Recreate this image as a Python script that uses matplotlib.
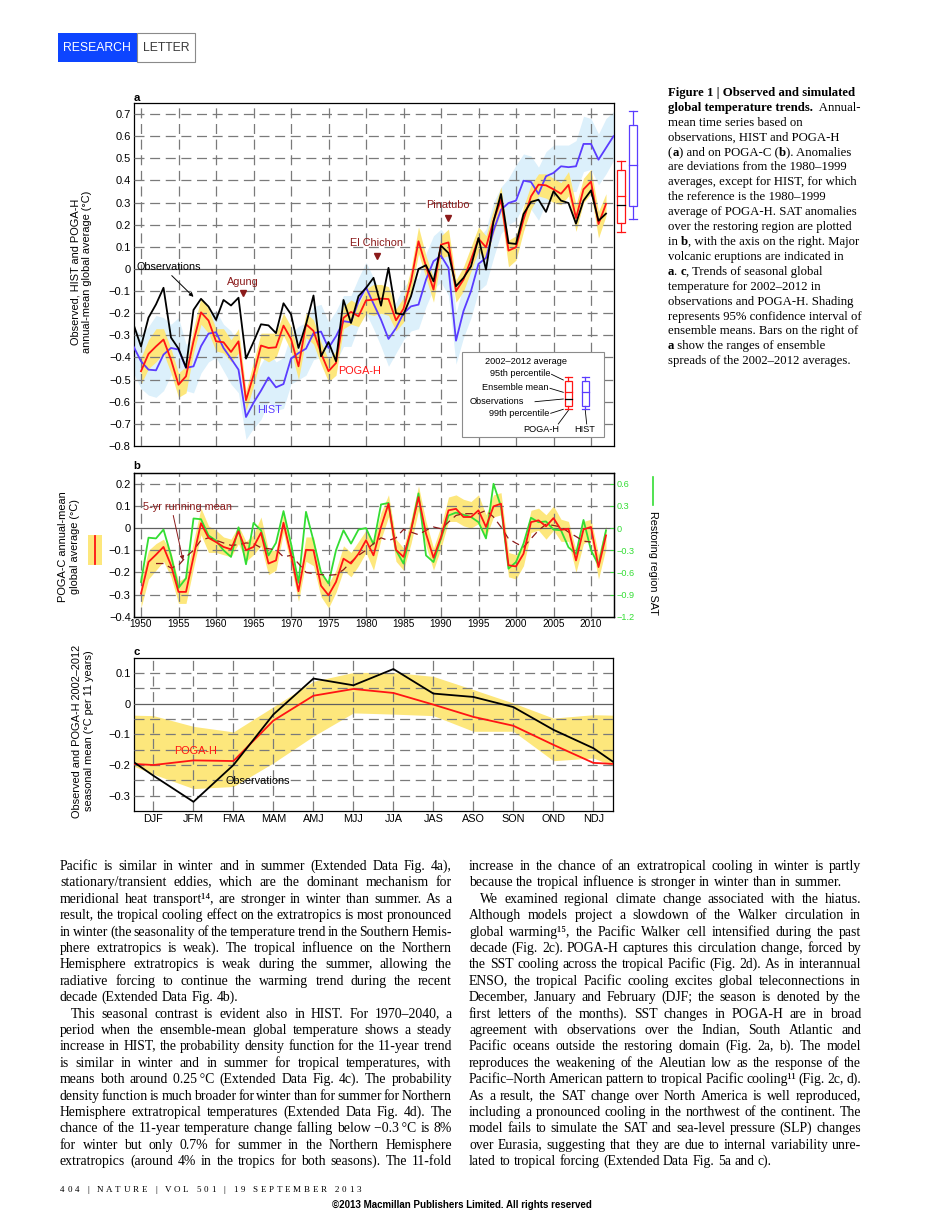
import numpy as np
import matplotlib
matplotlib.use('Agg')
import matplotlib.pyplot as plt
from matplotlib.patches import Rectangle
from matplotlib.lines import Line2D
from matplotlib.font_manager import FontProperties
from matplotlib.backends.backend_agg import get_hinting_flag

W, H = 925, 1216
SANS = ['Liberation Sans', 'DejaVu Sans']
SERIF = ['Liberation Serif', 'DejaVu Serif']
plt.rcParams['font.family'] = SANS
plt.rcParams['font.size'] = 7
plt.rcParams['axes.linewidth'] = 0.9

# ---------------- panel a: annual means (deg C) ----------------
years_obs = np.arange(1949, 2013)
obs = [-0.25, -0.35, -0.22, -0.16, -0.085, -0.31, -0.36, -0.445, -0.185, -0.135,
       -0.17, -0.23, -0.14, -0.165, -0.13, -0.405, -0.33, -0.25, -0.255, -0.29,
       -0.155, -0.205, -0.357, -0.25, -0.12, -0.395, -0.33, -0.417, -0.14, -0.244,
       -0.123, -0.086, -0.04, -0.166, 0.005, -0.2, -0.206, -0.123, 0.0, 0.017,
       -0.056, 0.105, 0.072, -0.078, -0.04, 0.012, 0.14, -0.003, 0.215, 0.339,
       0.117, 0.113, 0.248, 0.303, 0.313, 0.258, 0.351, 0.309, 0.298, 0.205,
       0.309, 0.355, 0.218, 0.25]

years_hist = np.arange(1949, 2014)
hist = [-0.35, -0.417, -0.455, -0.458, -0.387, -0.357, -0.364, -0.447, -0.44, -0.349,
        -0.292, -0.286, -0.357, -0.405, -0.455, -0.669, -0.605, -0.55, -0.49, -0.535,
        -0.52, -0.405, -0.38, -0.36, -0.29, -0.283, -0.357, -0.304, -0.236, -0.241,
        -0.146, -0.083, -0.157, -0.229, -0.316, -0.267, -0.2, -0.169, -0.161, -0.048,
        0.035, 0.06, 0.005, -0.324, -0.19, -0.1, 0.023, 0.05, 0.173, 0.268,
        0.298, 0.309, 0.399, 0.393, 0.339, 0.419, 0.434, 0.464, 0.46, 0.464,
        0.565, 0.565, 0.494, 0.547, 0.6]
hist_lo = [-0.47, -0.54, -0.57, -0.58, -0.55, -0.48, -0.46, -0.55, -0.56, -0.47,
           -0.42, -0.40, -0.46, -0.52, -0.56, -0.77, -0.72, -0.68, -0.60, -0.64,
           -0.63, -0.52, -0.50, -0.48, -0.41, -0.40, -0.47, -0.42, -0.35, -0.35,
           -0.26, -0.20, -0.27, -0.35, -0.44, -0.38, -0.32, -0.28, -0.27, -0.17,
           -0.09, -0.06, -0.12, -0.43, -0.31, -0.22, -0.10, -0.07, 0.05, 0.16,
           0.20, 0.22, 0.29, 0.27, 0.22, 0.30, 0.32, 0.34, 0.35, 0.35,
           0.44, 0.45, 0.38, 0.43, 0.49]
hist_hi = [-0.26, -0.30, -0.26, -0.21, -0.22, -0.25, -0.22, -0.34, -0.32, -0.22,
           -0.20, -0.19, -0.25, -0.28, -0.34, -0.56, -0.49, -0.43, -0.37, -0.42,
           -0.40, -0.29, -0.26, -0.24, -0.17, -0.16, -0.24, -0.19, -0.12, -0.12,
           -0.04, 0.03, -0.04, -0.11, -0.19, -0.15, -0.08, -0.05, -0.04, 0.07,
           0.15, 0.18, 0.13, -0.20, -0.07, 0.02, 0.14, 0.18, 0.30, 0.37,
           0.41, 0.47, 0.52, 0.51, 0.46, 0.53, 0.56, 0.56, 0.56, 0.58,
           0.69, 0.68, 0.61, 0.68, 0.71]

years_poga = np.arange(1950, 2013)
pogah = [-0.462, -0.384, -0.35, -0.319, -0.41, -0.523, -0.485, -0.327, -0.196, -0.233,
         -0.327, -0.331, -0.375, -0.327, -0.593, -0.48, -0.346, -0.357, -0.354, -0.256,
         -0.316, -0.44, -0.25, -0.28, -0.38, -0.462, -0.425, -0.221, -0.194, -0.214,
         -0.142, -0.139, -0.134, -0.136, -0.232, -0.18, -0.056, 0.125, 0.012, -0.093,
         0.11, 0.12, -0.1, -0.048, 0.042, 0.137, 0.098, 0.218, 0.313, 0.083,
         0.098, 0.223, 0.328, 0.381, 0.378, 0.36, 0.34, 0.38, 0.23, 0.36,
         0.395, 0.203, 0.294]
pogah_lo = [-0.52, -0.45, -0.42, -0.38, -0.47, -0.58, -0.56, -0.38, -0.25, -0.29,
            -0.37, -0.38, -0.42, -0.38, -0.64, -0.53, -0.40, -0.42, -0.40, -0.30,
            -0.37, -0.50, -0.31, -0.34, -0.43, -0.51, -0.48, -0.27, -0.25, -0.26,
            -0.20, -0.21, -0.20, -0.21, -0.28, -0.24, -0.11, 0.07, -0.04, -0.15,
            0.05, 0.06, -0.15, -0.10, -0.01, 0.08, 0.04, 0.16, 0.26, 0.01,
            0.04, 0.17, 0.27, 0.33, 0.32, 0.30, 0.29, 0.33, 0.17, 0.30,
            0.34, 0.14, 0.24]
pogah_hi = [-0.40, -0.32, -0.27, -0.27, -0.36, -0.47, -0.44, -0.27, -0.13, -0.18,
            -0.27, -0.27, -0.32, -0.27, -0.55, -0.42, -0.29, -0.29, -0.29, -0.20,
            -0.26, -0.38, -0.20, -0.23, -0.33, -0.41, -0.37, -0.17, -0.14, -0.16,
            -0.09, -0.07, -0.07, -0.08, -0.18, -0.13, 0.00, 0.19, 0.06, -0.04,
            0.15, 0.18, -0.05, 0.01, 0.10, 0.19, 0.15, 0.27, 0.37, 0.13,
            0.15, 0.28, 0.38, 0.43, 0.43, 0.41, 0.39, 0.44, 0.29, 0.41,
            0.45, 0.26, 0.34]

# 2002-2012 averages: ranges of ensemble spreads (POGA-H, HIST)
box_lo99 = [0.167, 0.227]
box_lo95 = [0.208, 0.283]
box_mean = [0.328, 0.468]
box_hi95 = [0.445, 0.652]
box_hi99 = [0.486, 0.712]
obs_avg = 0.29

volcano_names = ['Agung', 'El Chichon', 'Pinatubo']
volcano_years = [1963.6, 1981.4, 1990.9]

# ---------------- panel b: POGA-C ----------------
pogac = [-0.296, -0.153, -0.12, -0.085, -0.168, -0.288, -0.288, -0.13, 0.022, -0.044,
         -0.063, -0.085, -0.096, -0.015, -0.1, -0.085, -0.021, -0.16, -0.146, 0.024,
         -0.12, -0.285, -0.098, -0.1, -0.26, -0.303, -0.243, -0.138, -0.16, -0.116,
         -0.055, -0.123, 0.005, 0.11, -0.098, -0.13, -0.01, 0.14, -0.025, -0.134,
         -0.04, 0.08, 0.087, 0.05, 0.05, 0.08, 0.005, 0.098, 0.11, -0.168,
         -0.173, -0.116, 0.027, 0.035, 0.008, 0.045, -0.008, -0.003, -0.146, -0.006,
         0.005, -0.176, -0.033]
pogac_lo = [-0.36, -0.23, -0.19, -0.15, -0.22, -0.34, -0.34, -0.18, -0.03, -0.11,
            -0.11, -0.12, -0.13, -0.07, -0.15, -0.12, -0.08, -0.21, -0.19, -0.02,
            -0.17, -0.33, -0.15, -0.17, -0.31, -0.36, -0.29, -0.19, -0.22, -0.17,
            -0.11, -0.19, -0.05, 0.05, -0.15, -0.19, -0.07, 0.08, -0.08, -0.19,
            -0.09, 0.03, 0.03, 0.01, 0.00, 0.02, -0.04, 0.05, 0.06, -0.22,
            -0.23, -0.17, -0.02, -0.01, -0.05, -0.01, -0.06, -0.06, -0.20, -0.07,
            -0.05, -0.23, -0.09]
pogac_hi = [-0.24, -0.10, -0.07, -0.05, -0.11, -0.24, -0.22, -0.06, 0.09, 0.01,
            -0.01, -0.04, -0.05, 0.01, -0.06, -0.03, 0.05, -0.10, -0.10, 0.07,
            -0.07, -0.24, -0.04, -0.04, -0.21, -0.25, -0.19, -0.08, -0.11, -0.06,
            -0.01, -0.06, 0.07, 0.15, -0.05, -0.09, 0.04, 0.19, 0.03, -0.09,
            0.01, 0.14, 0.15, 0.13, 0.12, 0.15, 0.06, 0.15, 0.16, -0.11,
            -0.12, -0.07, 0.08, 0.09, 0.06, 0.10, 0.04, 0.03, -0.10, 0.03,
            0.04, -0.12, 0.01]
# restoring region SAT (right axis)
sat = [-0.73, -0.13, -0.14, -0.02, -0.37, -0.81, -0.68, 0.13, 0.12, -0.10,
       -0.17, -0.30, -0.39, 0.01, -0.49, 0.07, -0.03, -0.37, -0.20, 0.23,
       -0.21, -0.74, 0.22, -0.17, -0.60, -0.75, -0.30, -0.03, -0.21, -0.02,
       0.00, -0.22, 0.32, 0.34, -0.30, -0.48, -0.03, 0.47, -0.37, -0.46,
       -0.14, 0.17, 0.21, 0.18, 0.15, 0.08, -0.14, 0.60, 0.29, -0.55,
       -0.46, -0.21, 0.14, 0.08, 0.09, -0.02, -0.03, -0.26, -0.35, 0.11,
       -0.30, -0.50, -0.03]
years_run = np.arange(1952, 2011)
runmean = [-0.16, -0.16, -0.18, -0.168, -0.13, -0.1, -0.055, -0.044, -0.055, -0.067,
           -0.078, -0.075, -0.067, -0.07, -0.089, -0.093, -0.098, -0.13, -0.123, -0.16,
           -0.2, -0.206, -0.21, -0.213, -0.21, -0.188, -0.153, -0.123, -0.1, -0.07,
           -0.044, -0.056, -0.044, -0.006, -0.018, -0.03, -0.01, 0.005, -0.003, 0.027,
           0.057, 0.065, 0.065, 0.065, 0.08, 0.05, 0.005, -0.048, -0.068, -0.086,
           -0.048, -0.01, 0.017, 0.012, 0.005, -0.018, -0.038, -0.059, -0.063]

# ---------------- panel c: seasonal trends 2002-2012 ----------------
seasons = ['DJF', 'JFM', 'FMA', 'MAM', 'AMJ', 'MJJ', 'JJA', 'JAS', 'ASO', 'SON', 'OND', 'NDJ']
obs_c = [-0.235, -0.32, -0.2, -0.035, 0.082, 0.06, 0.113, 0.033, 0.022, -0.011, -0.085, -0.145]
poga_c = [-0.2, -0.185, -0.187, -0.055, 0.026, 0.048, 0.035, -0.003, -0.043, -0.072, -0.134, -0.193]
band_c_lo = [-0.23, -0.277, -0.27, -0.193, -0.106, -0.03, -0.034, -0.039, -0.09, -0.09, -0.186, -0.177]
band_c_hi = [-0.039, -0.074, -0.092, -0.01, 0.073, 0.102, 0.102, 0.089, 0.046, 0.002, -0.047, -0.036]

RED = '#ff1414'
BLUE = '#5a3cff'
GREEN = '#33dd33'
YEL = '#fde77c'
LBLUE = '#dcf0fb'
DRED = '#8b1a1a'
GRID = '#7a7a7a'
ANN = 7.8     # annotation font size
YT = 8.0      # y tick label size

fig = plt.figure(figsize=(W / 100, H / 100), dpi=100)
R = fig.canvas.get_renderer()


def fx(x):
    return x / W


def fy(y):
    return 1 - y / H


def rect(l, t, r, b):
    return [l / W, 1 - b / H, (r - l) / W, (b - t) / H]


def ftext(x, y, s, **kw):
    return fig.text(fx(x), fy(y), s, **kw)


def fline(xs, ys, **kw):
    fig.add_artist(Line2D([fx(v) for v in xs], [fy(v) for v in ys],
                          transform=fig.transFigure, **kw))


def fbox(l, t, r, b, **kw):
    fig.add_artist(Rectangle((fx(l), fy(b)), (r - l) / W, (b - t) / H,
                             transform=fig.transFigure, **kw))


def ink(s, **kw):
    t = fig.text(0, 0, s, **kw)
    w = t.get_window_extent(renderer=R).width
    t.remove()
    return w


def adv(s, **kw):
    return ink('|' + s + '|', **kw) - ink('||', **kw)


def base_fix(s, **kw):
    # whole-pixel shift that keeps baselines level when words are drawn one by one
    try:
        prop = FontProperties(family=kw.get('family', SANS), size=kw['fontsize'],
                              weight=kw.get('fontweight', 'normal'))
        font = R._prepare_font(prop)
        font.set_text(s, 0, flags=get_hinting_flag())
        _, h = font.get_width_height()
        dsc = font.get_descent()
        return round(dsc / 64) - h // 64 + (h - dsc) // 64
    except Exception:
        return 0


def btext(x, y, s, **kw):
    # text on an integer baseline (top-down pixels)
    return ftext(x, y - base_fix(s, **kw), s, ha='left', va='baseline', **kw)


def lab(v):
    return '0' if abs(v) < 1e-9 else f'{v:.1f}'.replace('-', '\u2212')


def dgrid(ax, xs=(), ys=()):
    for v in xs:
        ax.axvline(v, color=GRID, lw=0.9, ls=(0, (8, 4.5)), zorder=3)
    for v in ys:
        ax.axhline(v, color=GRID, lw=0.9, ls=(0, (8, 4.5)), zorder=3)
    ax.axhline(0, color='#606060', lw=0.9, zorder=3)


def style(ax):
    ax.tick_params(direction='in', length=3, width=0.7, pad=2)
    ax.tick_params(axis='y', labelsize=YT)


# ---------------- header ----------------
fbox(57.7, 33.3, 136.7, 61.7, facecolor='#0d45ff', edgecolor='none')
fbox(136.7, 33.3, 195, 61.7, facecolor='white', edgecolor='#8a8a8a', lw=0.8)
ftext(97.2, 47.8, 'RESEARCH', ha='center', va='center', color='white', fontsize=8.8)
ftext(165.8, 47.8, 'LETTER', ha='center', va='center', color='#3a3a3a', fontsize=8.8)

# ---------------- panel a ----------------
axA = fig.add_axes(rect(133.5, 103, 613.5, 446))
axA.set_xlim(1949, 2013)
axA.set_ylim(-0.8, 0.75)
yt = np.round(np.arange(-0.8, 0.71, 0.1), 1)
axA.set_yticks(yt)
axA.set_yticklabels([lab(v) for v in yt])
xt = np.arange(1950, 2011, 5)
axA.set_xticks(xt)
axA.tick_params(labelbottom=False)
style(axA)
dgrid(axA, xt, [v for v in yt if v not in (0, -0.8)])
axA.fill_between(years_hist, hist_lo, hist_hi, color=LBLUE, lw=0, zorder=1)
axA.fill_between(years_poga, pogah_lo, pogah_hi, color=YEL, lw=0, zorder=2)
axA.plot(years_hist, hist, color=BLUE, lw=1.3, zorder=4)
axA.plot(years_poga, pogah, color=RED, lw=1.3, zorder=5)
axA.plot(years_obs, obs, color='black', lw=1.3, zorder=6)

for i, c in enumerate([RED, BLUE]):
    x = [2014.0, 2015.6][i]
    axA.add_patch(Rectangle((x - 0.5, box_lo95[i]), 1.0, box_hi95[i] - box_lo95[i],
                            fill=False, ec=c, lw=0.9, clip_on=False))
    for a, b in [(box_lo99[i], box_lo95[i]), (box_hi95[i], box_hi99[i])]:
        axA.plot([x, x], [a, b], color=c, lw=0.9, clip_on=False)
    for v in [box_lo99[i], box_hi99[i], box_mean[i]]:
        axA.plot([x - 0.5, x + 0.5], [v, v], color=c, lw=0.9, clip_on=False)
axA.plot([2013.5, 2014.5], [obs_avg, obs_avg], color='black', lw=0.9, clip_on=False)

for name, yr, ty, my in zip(volcano_names, volcano_years, [-0.06, 0.117, 0.287],
                            [-0.108, 0.057, 0.23]):
    axA.text(yr, ty, name, color=DRED, ha='center', va='center', fontsize=ANN, zorder=7)
    axA.plot([yr], [my], marker='v', color=DRED, ms=5, zorder=7)

axA.text(1949.45, 0.01, 'Observations', ha='left', va='center', fontsize=ANN, zorder=7)
axA.annotate('', xy=(1957.0, -0.126), xytext=(1954.1, -0.03),
             arrowprops=dict(arrowstyle='-|>', color='black', lw=0.7,
                             mutation_scale=6, shrinkA=0, shrinkB=0), zorder=7)
axA.text(1967.2, -0.636, 'HIST', color=BLUE, ha='center', va='center', fontsize=ANN, zorder=7)
axA.text(1979.2, -0.46, 'POGA-H', color=RED, ha='center', va='center', fontsize=ANN, zorder=7)

# inset key
fbox(462, 351.7, 604, 436.7, facecolor='white', edgecolor='#8c8c8c', lw=0.8)
ftext(526, 361, '2002\u20132012 average', ha='center', va='center', fontsize=6.6)
for s, xr, yy, x0, y0, x1, y1 in [('95th percentile', 550.7, 373.3, 551.5, 374.3, 563.3, 380),
                                  ('Ensemble mean', 549, 387.7, 550, 388.3, 563.3, 392.3),
                                  ('Observations', 524.3, 401.7, 535, 401.7, 563.3, 399),
                                  ('99th percentile', 549.3, 413.3, 550.7, 413.3, 563.3, 409.3)]:
    ftext(xr, yy, s, ha='right', va='center', fontsize=6.6)
    fline([x0, x1], [y0, y1], color='black', lw=0.6)
for cx, c in [(568.2, RED), (585.3, BLUE)]:
    fbox(cx - 3.6, 380.7, cx + 3.6, 405.7, facecolor='none', edgecolor=c, lw=0.9)
    fline([cx, cx], [376.7, 380.7], color=c, lw=0.9)
    fline([cx, cx], [405.7, 409.3], color=c, lw=0.9)
    for yy in [376.7, 409.3, 392.3]:
        fline([cx - 3.6, cx + 3.6], [yy, yy], color=c, lw=0.9)
fline([564.6, 571.8], [399, 399], color='black', lw=0.9)
fline([558.3, 568.3], [424, 410.5], color='black', lw=0.6)
fline([586.7, 585.3], [424, 410.5], color='black', lw=0.6)
ftext(541.7, 429.5, 'POGA-H', ha='center', va='center', fontsize=6.6)
ftext(585, 429.5, 'HIST', ha='center', va='center', fontsize=6.6)

# ---------------- panel b ----------------
axB = fig.add_axes(rect(133.5, 472.7, 613.5, 616.7))
axB.set_xlim(1949, 2013)
axB.set_ylim(-0.4, 0.25)
ytb = np.round(np.arange(-0.4, 0.21, 0.1), 1)
axB.set_yticks(ytb)
axB.set_yticklabels([lab(v) for v in ytb])
axB.set_xticks(xt)
axB.set_xticklabels([str(v) for v in xt])
style(axB)
axB.tick_params(axis='x', labelsize=7.2, pad=1.5)
dgrid(axB, xt, [v for v in ytb if v not in (0, -0.4)])
axB.fill_between(years_poga, pogac_lo, pogac_hi, color=YEL, lw=0, zorder=2)

axB2 = axB.twinx()
axB2.set_ylim(-1.2, 0.75)
ytr = np.round(np.arange(-1.2, 0.61, 0.3), 1)
axB2.set_yticks(ytr)
axB2.set_yticklabels([lab(v) for v in ytr])
style(axB2)
axB2.tick_params(axis='y', labelcolor=GREEN, color=GREEN, labelsize=6.6)
axB2.plot(years_poga, sat, color=GREEN, lw=1.3)

axB3 = fig.add_axes(rect(133.5, 472.7, 613.5, 616.7), sharex=axB, sharey=axB)
axB3.axis('off')
axB3.plot(years_run, runmean, color=DRED, lw=0.9, ls=(0, (6, 4)))
axB3.plot(years_poga, pogac, color=RED, lw=1.3)
axB3.text(1950.3, 0.095, '5-yr running mean', color=DRED, ha='left', va='center', fontsize=ANN)
axB3.annotate('', xy=(1955.6, -0.145), xytext=(1954.3, 0.057),
              arrowprops=dict(arrowstyle='-|>', color=DRED, lw=0.7,
                              mutation_scale=6, shrinkA=0, shrinkB=0))

fbox(88.3, 535, 101.7, 565, facecolor=YEL, edgecolor='none')
fline([95, 95], [536, 564], color=RED, lw=1.3)
fline([653, 653], [476.7, 505], color=GREEN, lw=1.2)
ftext(653, 563.3, 'Restoring region SAT', rotation=270, ha='center', va='center', fontsize=7.8)

# ---------------- panel c ----------------
axC = fig.add_axes(rect(133.5, 657.7, 613.3, 811))
axC.set_xlim(-0.5, 11.5)
axC.set_ylim(-0.35, 0.15)
ytc = np.round(np.arange(-0.3, 0.11, 0.1), 1)
axC.set_yticks(ytc)
axC.set_yticklabels([lab(v) for v in ytc])
xc = np.arange(len(seasons))
axC.set_xticks(xc)
axC.set_xticklabels(seasons)
style(axC)
axC.tick_params(axis='x', labelsize=7.8, pad=2)
dgrid(axC, xc, [v for v in np.round(np.arange(-0.3, 0.11, 0.05), 2) if abs(v) > 1e-9])
# seasons are cyclic: repeat the neighbours on both ends
xw = np.arange(-1, len(seasons) + 1)


def wrap(v):
    return [v[-1]] + list(v) + [v[0]]


axC.fill_between(xw, wrap(band_c_lo), wrap(band_c_hi), color=YEL, lw=0, zorder=2)
axC.plot(xw, wrap(poga_c), color=RED, lw=1.3, zorder=5)
axC.plot(xw, wrap(obs_c), color='black', lw=1.3, zorder=6)
axC.text(0.525, -0.153, 'POGA-H', color=RED, ha='left', va='center', fontsize=ANN, zorder=7)
axC.text(1.79, -0.251, 'Observations', color='black', ha='left', va='center', fontsize=ANN, zorder=7)

# panel letters and axis titles
for s, yy in [('a', 97.7), ('b', 466), ('c', 651.7)]:
    ftext(133.5, yy, s, ha='left', va='center', fontsize=8.2, fontweight='bold')
ftext(81, 272, 'Observed, HIST and POGA-H\nannual-mean global average (\u00b0C)', rotation=90,
      ha='center', va='center', fontsize=7.9, linespacing=1.2)
ftext(69, 546.7, 'POGA-C annual-mean\nglobal average (\u00b0C)', rotation=90,
      ha='center', va='center', fontsize=7.9, linespacing=1.2)
ftext(83, 731, 'Observed and POGA-H 2002\u20132012\nseasonal mean (\u00b0C per 11 years)',
      rotation=90, ha='center', va='center', fontsize=7.9, linespacing=1.2)

# ---------------- caption ----------------
caption = [
    [('Figure 1 | Observed and simulated', 'bold')],
    [('global temperature trends.', 'bold'), ('  Annual-', 'normal')],
    [('mean time series based on', 'normal')],
    [('observations, HIST and POGA-H', 'normal')],
    [('(', 'normal'), ('a', 'bold'), (') and on POGA-C (', 'normal'), ('b', 'bold'),
     ('). Anomalies', 'normal')],
    [('are deviations from the 1980\u20131999', 'normal')],
    [('averages, except for HIST, for which', 'normal')],
    [('the reference is the 1980\u20131999', 'normal')],
    [('average of POGA-H. SAT anomalies', 'normal')],
    [('over the restoring region are plotted', 'normal')],
    [('in ', 'normal'), ('b', 'bold'), (', with the axis on the right. Major', 'normal')],
    [('volcanic eruptions are indicated in', 'normal')],
    [('a', 'bold'), ('. ', 'normal'), ('c', 'bold'), (', Trends of seasonal global', 'normal')],
    [('temperature for 2002\u20132012 in', 'normal')],
    [('observations and POGA-H. Shading', 'normal')],
    [('represents 95% confidence interval of', 'normal')],
    [('ensemble means. Bars on the right of', 'normal')],
    [('a', 'bold'), (' show the ranges of ensemble', 'normal')],
    [('spreads of the 2002\u20132012 averages.', 'normal')],
]
CAP = 9.2
for i, parts in enumerate(caption):
    x = 668
    y = round(96 + i * 14.9)
    for s, wt in parts:
        kw = dict(fontsize=CAP, family=SERIF, fontweight=wt)
        btext(x, y, s, **kw)
        x += adv(s, **kw)

# ---------------- body text ----------------
left_col = [
    ('Pacific is similar in winter and in summer (Extended Data Fig. 4a),', True, 0),
    ('stationary/transient eddies, which are the dominant mechanism for', True, 0),
    ('meridional heat transport\u00b9\u2074, are stronger in winter than summer. As a', True, 0),
    ('result, the tropical cooling effect on the extratropics is most pronounced', True, 0),
    ('in winter (the seasonality of the temperature trend in the Southern Hemis-', True, 0),
    ('phere extratropics is weak). The tropical influence on the Northern', True, 0),
    ('Hemisphere extratropics is weak during the summer, allowing the', True, 0),
    ('radiative forcing to continue the warming trend during the recent', True, 0),
    ('decade (Extended Data Fig. 4b).', False, 0),
    ('This seasonal contrast is evident also in HIST. For 1970\u20132040, a', True, 11),
    ('period when the ensemble-mean global temperature shows a steady', True, 0),
    ('increase in HIST, the probability density function for the 11-year trend', True, 0),
    ('is similar in winter and in summer for tropical temperatures, with', True, 0),
    ('means both around 0.25\u2009\u00b0C (Extended Data Fig. 4c). The probability', True, 0),
    ('density function is much broader for winter than for summer for Northern', True, 0),
    ('Hemisphere extratropical temperatures (Extended Data Fig. 4d). The', True, 0),
    ('chance of the 11-year temperature change falling below \u22120.3\u2009\u00b0C is 8%', True, 0),
    ('for winter but only 0.7% for summer in the Northern Hemisphere', True, 0),
    ('extratropics (around 4% in the tropics for both seasons). The 11-fold', True, 0),
]
right_col = [
    ('increase in the chance of an extratropical cooling in winter is partly', True, 0),
    ('because the tropical influence is stronger in winter than in summer.', False, 0),
    ('We examined regional climate change associated with the hiatus.', True, 11),
    ('Although models project a slowdown of the Walker circulation in', True, 0),
    ('global warming\u00b9\u2075, the Pacific Walker cell intensified during the past', True, 0),
    ('decade (Fig. 2c). POGA-H captures this circulation change, forced by', True, 0),
    ('the SST cooling across the tropical Pacific (Fig. 2d). As in interannual', True, 0),
    ('ENSO, the tropical Pacific cooling excites global teleconnections in', True, 0),
    ('December, January and February (DJF; the season is denoted by the', True, 0),
    ('first letters of the months). SST changes in POGA-H are in broad', True, 0),
    ('agreement with observations over the Indian, South Atlantic and', True, 0),
    ('Pacific oceans outside the restoring domain (Fig. 2a, b). The model', True, 0),
    ('reproduces the weakening of the Aleutian low as the response of the', True, 0),
    ('Pacific\u2013North American pattern to tropical Pacific cooling\u00b9\u00b9 (Fig. 2c, d).', True, 0),
    ('As a result, the SAT change over North America is well reproduced,', True, 0),
    ('including a pronounced cooling in the northwest of the continent. The', True, 0),
    ('model fails to simulate the SAT and sea-level pressure (SLP) changes', True, 0),
    ('over Eurasia, suggesting that they are due to internal variability unre-', True, 0),
    ('lated to tropical forcing (Extended Data Fig. 5a and c).', False, 0),
]
for x0, x1, col in [(60, 452, left_col), (469, 861, right_col)]:
    for i, (line, just, ind) in enumerate(col):
        y = round(870 + i * 16.4)
        # shrink a line that would not fit at the base size
        fs = 9.9
        while True:
            body = dict(fontsize=fs, family=SERIF)
            words = line.split(' ')
            ws = [adv(w, **body) for w in words]
            space = adv(' ', **body)
            if sum(ws) + 0.45 * space * (len(words) - 1) <= x1 - x0 - ind or fs < 8:
                break
            fs -= 0.1
        gap = (x1 - x0 - ind - sum(ws)) / (len(words) - 1) if just else space
        x = x0 + ind
        for w, wd in zip(words, ws):
            btext(x, y, w, **body)
            x += wd + gap

# ---------------- footer ----------------
foot = '404 | NATURE | VOL 501 | 19 SEPTEMBER 2013'
FOOT = dict(fontsize=6.5, family=SERIF)
advs = [adv(ch, **FOOT) for ch in foot]
track = (361 - 60 - sum(advs)) / (len(foot) - 1)
x = 60
for ch, a in zip(foot, advs):
    if ch != ' ':
        btext(x, 1192, ch, **FOOT)
    x += a + track
ftext(462, 1205, '\u00a92013 Macmillan Publishers Limited. All rights reserved', ha='center',
      va='center', fontsize=7, fontweight='bold')

fig.savefig('out.png', dpi=100, facecolor='white')
